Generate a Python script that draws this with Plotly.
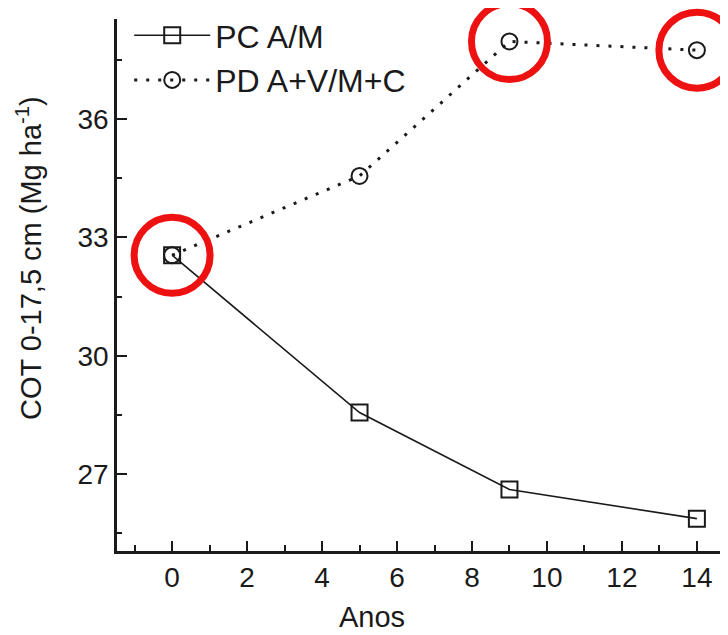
import plotly.graph_objects as go

anos = [0, 5, 9, 14]
pc_am = [32.55, 28.56, 26.61, 25.87]
pd_avmc = [32.55, 34.56, 37.97, 37.75]
destaque_x = [0, 9, 14]
destaque_y = [32.55, 37.97, 37.75]

x_ticks = [0, 2, 4, 6, 8, 10, 12, 14]
y_ticks = [27, 30, 33, 36]

font_fam = "Liberation Sans, Arial, sans-serif"
ink = "#1a1a1a"

fig = go.Figure()
fig.add_trace(go.Scatter(
    x=anos, y=pc_am, name="PC A/M", mode="lines+markers",
    line=dict(color=ink, width=1.6),
    marker=dict(symbol="square-open", size=16, color=ink, line=dict(width=2)),
    cliponaxis=False,
))
fig.add_trace(go.Scatter(
    x=anos, y=pd_avmc, name="PD A+V/M+C", mode="lines+markers",
    line=dict(color=ink, width=3, dash="3px,9px"),
    marker=dict(symbol="circle-open", size=16, color=ink, line=dict(width=2)),
    cliponaxis=False,
))
fig.add_trace(go.Scatter(
    x=destaque_x, y=destaque_y, mode="markers", showlegend=False,
    marker=dict(symbol="circle-open", size=76, color="#ee1111", line=dict(width=7)),
    cliponaxis=False, hoverinfo="skip",
))

fig.add_annotation(
    text="Anos", xref="paper", yref="paper", x=0.417, y=-0.124,
    xanchor="center", yanchor="middle", showarrow=False,
    font=dict(size=29, color=ink),
)
fig.add_annotation(
    text="COT 0-17,5 cm (Mg ha<sup>-1</sup>)", xref="paper", yref="paper",
    x=-0.145, y=0.5516, xanchor="center", yanchor="middle", textangle=-90,
    showarrow=False, font=dict(size=29, color=ink),
)

fig.update_layout(
    width=720, height=627,
    margin=dict(l=109, r=0, t=10, b=84),
    paper_bgcolor="white", plot_bgcolor="white",
    font=dict(family=font_fam, color=ink, size=26),
    showlegend=True,
    legend=dict(x=0.02, y=1.02, xanchor="left", yanchor="top",
                bgcolor="rgba(0,0,0,0)", font=dict(size=32),
                itemwidth=76, tracegroupgap=0),
    xaxis=dict(
        range=[-1.47, 14.83], tickvals=x_ticks, ticktext=[str(v) for v in x_ticks],
        ticks="inside", ticklen=10, tickwidth=2, tickcolor=ink,
        minor=dict(dtick=1, tick0=1, ticks="inside", ticklen=6, tickwidth=2, tickcolor=ink),
        showline=True, linecolor=ink, linewidth=2.5, showgrid=False, zeroline=False,
        tickfont=dict(size=28),
    ),
    yaxis=dict(
        range=[25.05, 38.54], tickvals=y_ticks, ticktext=[str(v) for v in y_ticks],
        ticks="inside", ticklen=10, tickwidth=2, tickcolor=ink,
        minor=dict(dtick=1.5, tick0=0, ticks="inside", ticklen=5, tickwidth=2, tickcolor=ink),
        showline=True, linecolor=ink, linewidth=2.5, showgrid=False, zeroline=False,
        tickfont=dict(size=28), ticklabelstandoff=0,
    ),
)

fig.write_html("out.html")
